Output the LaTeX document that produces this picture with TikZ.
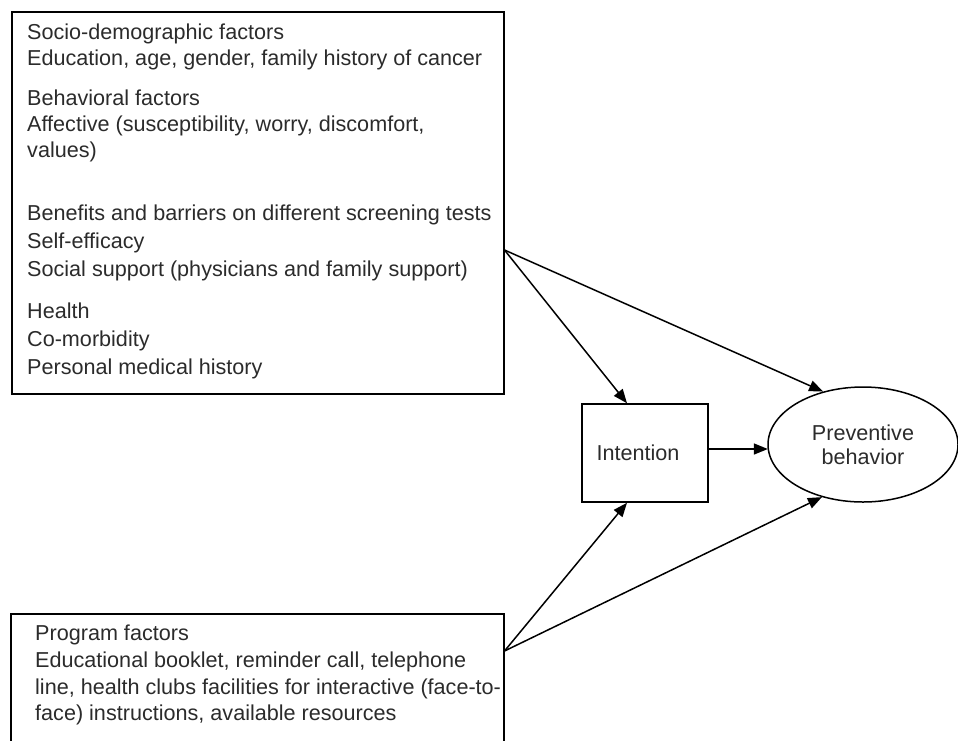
\documentclass[tikz,border=0pt]{standalone}
\usepackage{fontspec}
\setmainfont{Liberation Sans}
\usetikzlibrary{shapes.geometric,arrows.meta,calc}
\definecolor{txt}{HTML}{2B2B2B}
\tikzset{
  box/.style={draw=black, line width=1.5pt, inner sep=0pt},
  line/.style={anchor=base west, inner sep=0pt, text=txt, font=\fontsize{21.6}{26}\selectfont},
  conn/.style={draw=black, line width=1.5pt, -{Triangle[length=14pt,width=11pt]}},
}
\begin{document}
\begin{tikzpicture}[x=1pt,y=-1pt]
\useasboundingbox (0,0) rectangle (958,740);
% top factors box
\node[box, minimum width=492pt, minimum height=382pt, anchor=north west] (sd) at (11,11) {};
\node[line] (t1) at (27,39) {Socio-demographic factors};
\node[line] (t2) at (27,65) {Education, age, gender, family history of cancer};
\node[line] (t3) at (27,105) {Behavioral factors};
\node[line] (t4) at (27,131) {Affective (susceptibility, worry, discomfort,};
\node[line] (t5) at (27,157) {values)};
\node[line] (t6) at (27,220) {Benefits and barriers on different screening tests};
\node[line] (t7) at (27,248) {Self-efficacy};
\node[line] (t8) at (27,276) {Social support (physicians and family support)};
\node[line] (t9) at (27,318) {Health};
\node[line] (t10) at (27,346) {Co-morbidity};
\node[line] (t11) at (27,374) {Personal medical history};
% program box
\node[box, minimum width=493pt, minimum height=160pt, anchor=north west] (pf) at (10,613) {};
\node[line] (p1) at (35,640) {Program factors};
\node[line] (p2) at (35,667) {Educational booklet, reminder call, telephone};
\node[line] (p3) at (35,694) {line, health clubs facilities for interactive (face-to-};
\node[line] (p4) at (35,720) {face) instructions, available resources};
% intention
\node[box, minimum width=126pt, minimum height=98pt, text=txt, font=\fontsize{21.6}{26}\selectfont] (int) at (645,453) {\hspace*{-14pt}Intention};
% preventive behavior
\node[draw=black, line width=1.5pt, ellipse, minimum width=190pt, minimum height=115pt, inner sep=0pt, align=center, text=txt, font=\fontsize{21.6}{24}\selectfont] (pb) at (863,444.5) {Preventive\\behavior};
% connector points
\coordinate (s1) at (sd.east |- 0,250);
\coordinate (s2) at (pf.east |- 0,651);
\coordinate (it) at ($(int.north)+(-18,0)$);
\coordinate (ib) at ($(int.south)+(-18,0)$);
\coordinate (ie) at ($(int.east)+(0,-4)$);
\coordinate (pw) at ($(pb.west |- ie)+(0.6,0)$);
\draw[conn] (s1) -- (it);
\draw[conn] (s1) -- (pb.127.8);
\draw[conn] (s2) -- (ib);
\draw[conn] (s2) -- (pb.232.2);
\draw[conn] (ie) -- (pw);
\end{tikzpicture}
\end{document}
